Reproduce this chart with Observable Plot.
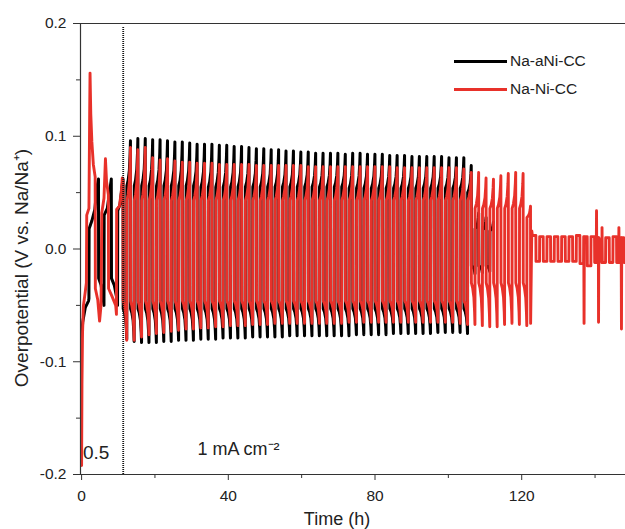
<!DOCTYPE html>
<html><head><meta charset="utf-8">
<script src="https://cdn.jsdelivr.net/npm/d3@7"></script>
<script src="https://cdn.jsdelivr.net/npm/@observablehq/plot@0.6"></script>
<style>
body{margin:0;background:#fff;font-family:"Liberation Sans",Arial,sans-serif;}
#wrap{position:relative;width:625px;height:529px;overflow:hidden;}
.sw{position:absolute;height:3px;width:53px;}
.lt{position:absolute;font-size:15.5px;color:#222;line-height:1;}
</style></head><body><div id="wrap"></div>
<script>
// ---------- axis / tick data ----------
const xDomain = [-0.3, 148.3];
const yDomain = [-0.2, 0.2];
const xMajor = [0, 40, 80, 120];
const xMinor = [20, 60, 100, 140];
const yMajor = [-0.2, -0.1, 0.0, 0.1, 0.2];
const yMinor = [-0.15, -0.05, 0.05, 0.15];
const seriesNames = ["Na-aNi-CC", "Na-Ni-CC"];
const seriesColors = ["#000000", "#e8312a"];
const dividerT = [11.35];
const dividerTop = 0.197;

// ---------- early 0.5 mA cm-2 segment ----------
const earlyBlackT = [0, 0.3, 1.0, 1.9, 2.0, 2.05, 2.8, 3.6, 4.2, 4.6, 4.65, 5.3, 5.8, 6.1, 6.15, 7.0, 7.6, 8.1, 8.15, 8.9, 9.5, 9.8, 9.85, 10.5, 11.0, 11.3];
const earlyBlackV = [-0.078, -0.065, -0.052, -0.046, -0.044, 0.018, 0.025, 0.035, 0.055, 0.062, -0.026, -0.032, -0.042, -0.05, 0.03, 0.036, 0.05, 0.062, -0.026, -0.032, -0.042, -0.05, 0.034, 0.04, 0.055, 0.062];
const earlyRedT = [0, 0.1, 0.25, 0.5, 1.0, 1.3, 1.4, 2.0, 2.2, 2.3, 2.5, 2.8, 3.2, 3.7, 3.75, 4.4, 4.9, 5.3, 5.5, 6.1, 6.5, 6.8, 7.3, 7.35, 8.3, 9.3, 9.5, 9.55, 10.3, 10.8, 11.1, 11.3];
const earlyRedV = [-0.192, -0.12, -0.075, -0.05, -0.038, -0.03, 0.03, 0.036, 0.12, 0.156, 0.12, 0.095, 0.075, 0.064, -0.035, -0.045, -0.064, -0.05, 0.032, 0.045, 0.08, 0.06, 0.048, -0.035, -0.042, -0.05, -0.058, 0.035, 0.038, 0.05, 0.063, 0.06];

// ---------- 1 mA cm-2 cycling: per-cycle values ----------
const cycleStart = 11.3;   // h
const cyclePeriod = 2.02;  // h
// shape of one half cycle: [fraction of time, fraction of rise from start to peak]
const halfShape = [[0, 0], [0.35, 0.12], [0.7, 0.35], [0.9, 0.7], [1, 1]];

const blackUpStart = [0.056,0.056,0.056,0.056,0.056,0.056,0.056,0.056,0.056,0.056,
  0.055,0.055,0.055,0.055,0.055,0.055,0.055,0.055,0.055,0.055,
  0.055,0.055,0.055,0.055,0.055,0.055,0.055,0.055,0.055,0.055,
  0.054,0.054,0.054,0.054,0.054,0.054,0.054,0.054,0.054,0.054,
  0.054,0.054,0.054,0.054,0.054,0.054,0.050,
  0.018,0.017,0.016];
const blackUpPeak = [0.096,0.098,0.098,0.097,0.097,0.096,0.095,0.095,0.094,0.093,
  0.093,0.093,0.092,0.092,0.091,0.091,0.090,0.089,0.089,0.088,
  0.088,0.087,0.087,0.086,0.086,0.085,0.085,0.085,0.085,0.084,
  0.085,0.085,0.084,0.084,0.084,0.083,0.083,0.083,0.082,0.082,
  0.082,0.082,0.082,0.081,0.081,0.081,0.074,
  0.032,0.028,0.024];
const blackDnStart = [-0.053,-0.053,-0.053,-0.053,-0.053,-0.053,-0.053,-0.053,-0.053,-0.053,
  -0.053,-0.053,-0.053,-0.053,-0.053,-0.053,-0.053,-0.053,-0.053,-0.053,
  -0.053,-0.053,-0.053,-0.053,-0.053,-0.053,-0.053,-0.053,-0.053,-0.053,
  -0.053,-0.053,-0.053,-0.053,-0.053,-0.053,-0.053,-0.053,-0.053,-0.053,
  -0.053,-0.053,-0.053,-0.053,-0.053,-0.053,-0.053,
  -0.015,-0.015,-0.015];
const blackDnPeak = [-0.080,-0.082,-0.083,-0.083,-0.083,-0.082,-0.082,-0.081,-0.081,-0.081,
  -0.080,-0.080,-0.080,-0.079,-0.079,-0.079,-0.079,-0.078,-0.078,-0.078,
  -0.078,-0.078,-0.077,-0.077,-0.077,-0.077,-0.077,-0.077,-0.077,-0.077,
  -0.077,-0.076,-0.076,-0.076,-0.076,-0.076,-0.075,-0.075,-0.075,-0.075,
  -0.075,-0.075,-0.074,-0.074,-0.074,-0.074,-0.075,
  -0.022,-0.021,-0.020];

const redUpStart = [0.043,0.043,0.043,0.043,0.043,0.043,0.043,0.043,0.043,0.043,
  0.043,0.043,0.043,0.043,0.043,0.043,0.043,0.043,0.043,0.043,
  0.043,0.043,0.043,0.043,0.043,0.043,0.043,0.043,0.043,0.043,
  0.043,0.043,0.043,0.043,0.043,0.043,0.043,0.043,0.043,0.043,
  0.043,0.043,0.043,0.043,0.043,0.043,0.043,
  0.036,0.036,0.036,0.036,0.036,0.036,0.036,
  0.028];
const redUpPeak = [0.090,0.088,0.090,0.081,0.079,0.080,0.078,0.077,0.077,0.076,
  0.076,0.076,0.075,0.075,0.075,0.075,0.075,0.074,0.074,0.074,
  0.074,0.074,0.074,0.074,0.073,0.073,0.073,0.073,0.073,0.073,
  0.073,0.073,0.073,0.073,0.073,0.073,0.072,0.072,0.072,0.072,
  0.072,0.072,0.072,0.072,0.072,0.071,0.068,
  0.068,0.063,0.062,0.065,0.067,0.068,0.067,
  0.038];
const redDnStart = [-0.046,-0.046,-0.046,-0.046,-0.046,-0.046,-0.046,-0.046,-0.046,-0.046,
  -0.046,-0.046,-0.046,-0.046,-0.046,-0.046,-0.046,-0.046,-0.046,-0.046,
  -0.046,-0.046,-0.046,-0.046,-0.046,-0.046,-0.046,-0.046,-0.046,-0.046,
  -0.046,-0.046,-0.046,-0.046,-0.046,-0.046,-0.046,-0.046,-0.046,-0.046,
  -0.046,-0.046,-0.046,-0.046,-0.046,-0.046,-0.046,
  -0.030,-0.030,-0.030,-0.030,-0.030,-0.030,-0.030,
  -0.030];
const redDnPeak = [-0.081,-0.081,-0.078,-0.076,-0.075,-0.074,-0.073,-0.072,-0.071,-0.071,
  -0.070,-0.070,-0.069,-0.069,-0.068,-0.068,-0.068,-0.067,-0.067,-0.067,
  -0.066,-0.066,-0.066,-0.066,-0.066,-0.066,-0.066,-0.066,-0.066,-0.066,
  -0.065,-0.065,-0.065,-0.065,-0.065,-0.065,-0.065,-0.065,-0.065,-0.065,
  -0.065,-0.065,-0.065,-0.065,-0.065,-0.066,-0.067,
  -0.067,-0.068,-0.069,-0.069,-0.067,-0.066,-0.067,
  -0.068];

// ---------- red tail after failure of cycling ----------
const redBridgeT = [122.43, 122.75];
const redBridgeV = [-0.066, 0.016];
const tailStart = 122.9;
const tailPeriod = 2.0;
const tailTop = [0.012,0.011,0.011,0.011,0.011,0.011,0.012,0.011,0.011,0.010,0.010,0.011,0.010];
const tailBot = [-0.011,-0.011,-0.011,-0.011,-0.011,-0.011,-0.013,-0.015,-0.012,-0.012,-0.012,-0.012,-0.012];
const spikeT = [137.0, 140.4, 140.95, 141.9, 146.5, 147.2];
const spikeV = [-0.066, 0.034, -0.065, 0.019, 0.019, -0.071];

// ---------- build line tables ----------
const gap = 0.04;
function addHalf(pts, ts, te, a, b) {
  for (const [f, g] of halfShape) pts.push({t: ts + f * (te - ts), v: a + g * (b - a)});
}
function buildCycles(pts, upStart, upPeak, dnStart, dnPeak) {
  const half = cyclePeriod / 2;
  for (let k = 0; k < upPeak.length; k++) {
    const t0 = cycleStart + k * cyclePeriod;
    addHalf(pts, t0 + gap, t0 + half, dnStart[k], dnPeak[k]);
    addHalf(pts, t0 + half + gap, t0 + 2 * half, upStart[k], upPeak[k]);
  }
}
const black = earlyBlackT.map((t, i) => ({t, v: earlyBlackV[i]}));
buildCycles(black, blackUpStart, blackUpPeak, blackDnStart, blackDnPeak);

const red = earlyRedT.map((t, i) => ({t, v: earlyRedV[i]}));
buildCycles(red, redUpStart, redUpPeak, redDnStart, redDnPeak);
redBridgeT.forEach((t, i) => red.push({t, v: redBridgeV[i]}));
const tail = [];
for (let n = 0; n < tailTop.length; n++) {
  const s = tailStart + n * tailPeriod;
  tail.push({t: s, v: tailTop[n]}, {t: s + tailPeriod / 2 - gap, v: tailTop[n]},
            {t: s + tailPeriod / 2, v: tailBot[n]}, {t: s + tailPeriod - gap, v: tailBot[n]});
}
function baseAt(t) {
  let b = tail[0].v;
  for (const p of tail) { if (p.t <= t) b = p.v; else break; }
  return b;
}
spikeT.forEach((t, i) => {
  const b = baseAt(t);
  tail.push({t: t - 0.08, v: b}, {t, v: spikeV[i]}, {t: t + 0.08, v: b});
});
tail.sort((a, b) => a.t - b.t);
red.push(...tail);

// ---------- plot ----------
const fmt = d => d.toFixed(1);
const axisColor = "#333";
const chart = Plot.plot({
  width: 625, height: 529,
  marginLeft: 80, marginRight: 0, marginTop: 23, marginBottom: 55,
  style: {fontFamily: "Liberation Sans, Arial, sans-serif", color: "#222", background: "#fff"},
  x: {domain: xDomain},
  y: {domain: yDomain},
  marks: [
    Plot.line(black, {x: "t", y: "v", stroke: seriesColors[0], strokeWidth: 3, clip: true}),
    Plot.line(red, {x: "t", y: "v", stroke: seriesColors[1], strokeWidth: 2.9, clip: true}),
    Plot.ruleX(dividerT, {y1: yDomain[0], y2: dividerTop, stroke: "#111", strokeWidth: 1.8, strokeDasharray: "1,1"}),
    Plot.ruleY(yDomain, {stroke: axisColor, strokeWidth: 1.2}),
    Plot.ruleX([xDomain[0]], {stroke: axisColor, strokeWidth: 1.2}),
    Plot.axisY({ticks: yMajor, tickFormat: fmt, tickSize: 7, tickPadding: 7, fontSize: 15.5, label: null, stroke: axisColor}),
    Plot.axisY({ticks: yMinor, tickFormat: () => "", tickSize: 4, label: null, stroke: axisColor}),
    Plot.axisX({ticks: xMajor, tickSize: 6, tickPadding: 9, fontSize: 15.5, label: null, stroke: axisColor}),
    Plot.axisX({ticks: xMinor, tickFormat: () => "", tickSize: 4, label: null, stroke: axisColor}),
    Plot.text(["Overpotential (V vs. Na/Na⁺)"], {frameAnchor: "left", textAnchor: "middle", lineAnchor: "middle", rotate: -90, dx: -59, dy: 19, fontSize: 19, fill: "#222"}),
    Plot.text(["Time (h)"], {frameAnchor: "bottom", textAnchor: "middle", lineAnchor: "middle", dx: -16, dy: 45, fontSize: 18, fill: "#222"}),
    Plot.text(["0.5"], {frameAnchor: "bottom-left", textAnchor: "start", lineAnchor: "middle", dx: 2.5, dy: -22, fontSize: 19, fill: "#222"}),
    Plot.text(["1 mA cm⁻²"], {frameAnchor: "bottom-left", textAnchor: "start", lineAnchor: "middle", dx: 117, dy: -25, fontSize: 18, fill: "#222"})
  ]
});
const wrap = document.getElementById("wrap");
wrap.appendChild(chart);

// legend
const legendY = [61, 89];
seriesNames.forEach((name, i) => {
  const sw = document.createElement("div");
  sw.className = "sw";
  sw.style.left = "454px"; sw.style.top = (legendY[i] - 1.5) + "px";
  sw.style.background = seriesColors[i];
  wrap.appendChild(sw);
  const lt = document.createElement("div");
  lt.className = "lt";
  lt.style.left = "510px"; lt.style.top = (legendY[i] - 8.5) + "px";
  lt.textContent = name;
  wrap.appendChild(lt);
});
</script></body></html>
